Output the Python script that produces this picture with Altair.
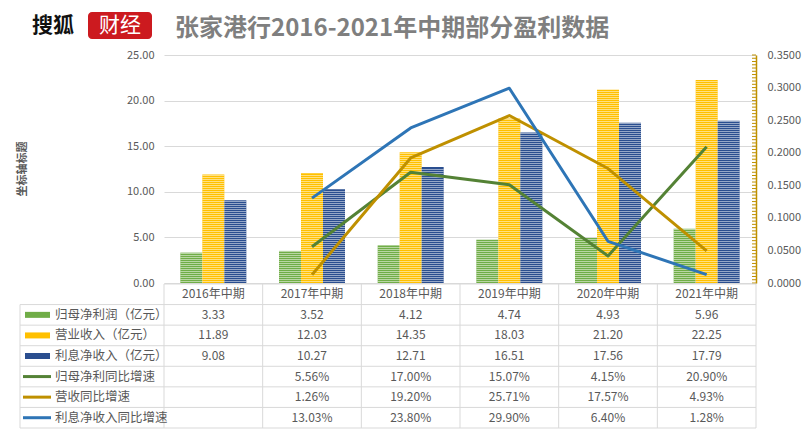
import altair as alt
import pandas as pd
import numpy as np

# ---------------- data ----------------
years = ["2016年中期", "2017年中期", "2018年中期", "2019年中期", "2020年中期", "2021年中期"]
bar_series = ["归母净利润（亿元）", "营业收入（亿元）", "利息净收入（亿元）"]
line_series = ["归母净利同比增速", "营收同比增速", "利息净收入同比增速"]

net_profit = [3.33, 3.52, 4.12, 4.74, 4.93, 5.96]
revenue = [11.89, 12.03, 14.35, 18.03, 21.20, 22.25]
interest_income = [9.08, 10.27, 12.71, 16.51, 17.56, 17.79]

profit_growth = [None, 0.0556, 0.1700, 0.1507, 0.0415, 0.2090]
revenue_growth = [None, 0.0126, 0.1920, 0.2571, 0.1757, 0.0493]
interest_growth = [None, 0.1303, 0.2380, 0.2990, 0.0640, 0.0128]

left_ticks = [0, 5, 10, 15, 20, 25]
right_ticks = [0, 0.05, 0.10, 0.15, 0.20, 0.25, 0.30, 0.35]

bar_colors = ["#70AD47", "#FFC000", "#2A4E8F"]
line_colors = ["#548235", "#BF9000", "#2E75B6"]

title_text = "张家港行2016-2021年中期部分盈利数据"
y_title_text = "坐标轴标题"

# ---------------- layout constants ----------------
W, H = 592, 228
TAB_TOP, TAB_BOT = 229, 373
ROW_H = (TAB_BOT - TAB_TOP) / 7
LABEL_LEFT = -144
FONT = "Noto Sans CJK SC"
GRAY = "#595959"
GRID = "#D9D9D9"

bar_vals = [net_profit, revenue, interest_income]
line_vals = [profit_growth, revenue_growth, interest_growth]

bar_df = pd.DataFrame([
    {"year": y, "series": s, "value": v}
    for s, vals in zip(bar_series, bar_vals) for y, v in zip(years, vals)
])
line_df = pd.DataFrame([
    {"year": y, "series": s, "value": v}
    for s, vals in zip(line_series, line_vals) for y, v in zip(years, vals) if v is not None
])

# hatch stripes (1px light lines every 2px) derived from bar values
unit = 25 / H
stripe_rows = []
for r in bar_df.itertuples():
    k = 0
    while (2 * k + 2) * unit <= r.value:
        stripe_rows.append({"year": r.year, "series": r.series,
                            "lo": (2 * k + 1) * unit, "hi": (2 * k + 2) * unit})
        k += 1
stripe_df = pd.DataFrame(stripe_rows)

row_order = ["header"] + bar_series + line_series
cells = [{"row": "header", "year": y, "text": y} for y in years]
for s, vals in zip(bar_series, bar_vals):
    cells += [{"row": s, "year": y, "text": f"{v:.2f}"} for y, v in zip(years, vals)]
for s, vals in zip(line_series, line_vals):
    cells += [{"row": s, "year": y, "text": f"{v*100:.2f}%"} for y, v in zip(years, vals) if v is not None]
cell_df = pd.DataFrame(cells)
label_df = pd.DataFrame({"row": bar_series + line_series, "series": bar_series + line_series})
year_df = pd.DataFrame({"year": years})
row_df = pd.DataFrame({"row": row_order})
minor_df = pd.DataFrame({"t": np.round(np.arange(0, 0.3501, 0.005), 4)})
one = pd.DataFrame({"a": [1]})

color_scale = alt.Scale(domain=bar_series + line_series, range=bar_colors + line_colors)

# ---------------- encodings ----------------
band_bar = alt.Scale(type="band", domain=years, paddingInner=0.331, paddingOuter=0.1655)
band_tab = alt.Scale(type="band", domain=years, paddingInner=0, paddingOuter=0)
row_scale = alt.Scale(type="band", domain=row_order, range=[TAB_TOP, TAB_BOT], paddingInner=0, paddingOuter=0)
x_off = alt.XOffset("series:N", sort=bar_series,
                    scale=alt.Scale(domain=bar_series, paddingInner=0, paddingOuter=0))

bars = alt.Chart(bar_df).mark_bar().encode(
    x=alt.X("year:N", sort=years, scale=band_bar, axis=None),
    xOffset=x_off,
    y=alt.Y("value:Q", scale=alt.Scale(domain=[0, 25]),
            axis=alt.Axis(values=left_ticks, format=".2f", grid=True, gridColor=GRID,
                          domain=False, ticks=False, labelPadding=10, labelColor=GRAY,
                          labelFontSize=11, labelFont=FONT, title=None)),
    color=alt.Color("series:N", scale=color_scale, legend=None),
)

stripes = alt.Chart(stripe_df).mark_bar(color="white", opacity=0.5).encode(
    x=alt.X("year:N", sort=years, scale=band_bar, axis=None),
    xOffset=x_off,
    y=alt.Y("lo:Q", scale=alt.Scale(domain=[0, 25]), axis=None),
    y2="hi:Q",
)

lines = alt.Chart(line_df).mark_line(strokeWidth=3, strokeJoin="round").encode(
    x=alt.X("year:N", sort=years, scale=band_bar, bandPosition=0.5, axis=None),
    y=alt.Y("value:Q", scale=alt.Scale(domain=[0, 0.35]),
            axis=alt.Axis(orient="right", values=right_ticks, format=".4f", grid=False,
                          domainColor="#BF9000", domainWidth=1.5, ticks=False,
                          labelPadding=11, labelColor=GRAY, labelFontSize=11,
                          labelFont=FONT, title=None)),
    color=alt.Color("series:N", scale=color_scale, legend=None),
    detail="series:N",
)

minor = alt.Chart(minor_df).mark_rule(color="#BF9000", strokeWidth=1).encode(
    x=alt.value(W - 4), x2=alt.value(W),
    y=alt.Y("t:Q", scale=alt.Scale(domain=[0, 0.35]), axis=None),
)

# ---------------- table ----------------
y_mid = alt.Y("row:N", sort=row_order, scale=row_scale, bandPosition=0.5, axis=None)
y_top = alt.Y("row:N", sort=row_order, scale=row_scale, bandPosition=0, axis=None)

cell_text = alt.Chart(cell_df).mark_text(fontSize=12, color=GRAY, baseline="middle", align="center").encode(
    x=alt.X("year:N", sort=years, scale=band_tab, bandPosition=0.5, axis=None),
    y=y_mid,
    text="text:N",
)

hline_header = alt.Chart(row_df[row_df.row == "header"]).mark_rule(color=GRID).encode(
    x=alt.value(0), x2=alt.value(W), y=y_top)
hline_rows = alt.Chart(row_df[row_df.row != "header"]).mark_rule(color=GRID).encode(
    x=alt.value(LABEL_LEFT), x2=alt.value(W), y=y_top)
hline_bottom = alt.Chart(one).mark_rule(color=GRID).encode(
    x=alt.value(LABEL_LEFT), x2=alt.value(W), y=alt.value(TAB_BOT))

vlines = alt.Chart(year_df).mark_rule(color=GRID).encode(
    x=alt.X("year:N", sort=years, scale=band_tab, bandPosition=0, axis=None),
    y=alt.value(TAB_TOP), y2=alt.value(TAB_BOT))
vline_right = alt.Chart(one).mark_rule(color=GRID).encode(
    x=alt.value(W), y=alt.value(TAB_TOP), y2=alt.value(TAB_BOT))
vline_left = alt.Chart(one).mark_rule(color=GRID).encode(
    x=alt.value(LABEL_LEFT), y=alt.value(TAB_TOP + ROW_H), y2=alt.value(TAB_BOT))

label_text = alt.Chart(label_df).mark_text(fontSize=12.5, color=GRAY, baseline="middle", align="left").encode(
    x=alt.value(-109), y=y_mid, text="series:N")

bar_sym_df = label_df[label_df.series.isin(bar_series)]
line_sym_df = label_df[label_df.series.isin(line_series)]
bar_sym = alt.Chart(bar_sym_df).mark_rule(strokeWidth=6).encode(
    x=alt.value(-139), x2=alt.value(-114), y=y_mid,
    color=alt.Color("series:N", scale=color_scale, legend=None))
bar_sym_s1 = alt.Chart(bar_sym_df).mark_rule(strokeWidth=1, color="white", opacity=0.6).encode(
    x=alt.value(-139), x2=alt.value(-114), y=y_mid, yOffset=alt.value(-1.5))
bar_sym_s2 = alt.Chart(bar_sym_df).mark_rule(strokeWidth=1, color="white", opacity=0.6).encode(
    x=alt.value(-139), x2=alt.value(-114), y=y_mid, yOffset=alt.value(1.5))
line_sym = alt.Chart(line_sym_df).mark_rule(strokeWidth=3).encode(
    x=alt.value(-141), x2=alt.value(-113), y=y_mid,
    color=alt.Color("series:N", scale=color_scale, legend=None))

# ---------------- header / titles ----------------
logo_left = alt.Chart(one).mark_text(text="搜狐", fontSize=21, fontWeight="bold", color="#111111",
                                     align="left", baseline="middle").encode(
    x=alt.value(-132), y=alt.value(-29))
logo_box = alt.Chart(one).mark_rect(color="#CC1A1F", cornerRadius=4).encode(
    x=alt.value(-76), x2=alt.value(-12), y=alt.value(-43), y2=alt.value(-16))
logo_right = alt.Chart(one).mark_text(text="财经", fontSize=21, color="white",
                                      align="center", baseline="middle").encode(
    x=alt.value(-44), y=alt.value(-29))
title = alt.Chart(one).mark_text(text=title_text, fontSize=24, fontWeight="bold", color="#7F7F7F",
                                 align="left", baseline="middle").encode(
    x=alt.value(11), y=alt.value(-26))
y_title = alt.Chart(one).mark_text(text=y_title_text, fontSize=11, fontWeight="bold", color=GRAY,
                                   angle=270, align="center", baseline="middle").encode(
    x=alt.value(-141), y=alt.value(H / 2))

chart = alt.layer(
    bars, stripes, lines, minor,
    hline_header, hline_rows, hline_bottom, vlines, vline_right, vline_left,
    cell_text, label_text, bar_sym, bar_sym_s1, bar_sym_s2, line_sym,
    logo_box, logo_left, logo_right, title, y_title,
).resolve_scale(
    x="independent", y="independent"
).properties(
    width=W, height=H,
    autosize=alt.AutoSizeParams(type="none"),
    padding={"left": 156, "top": 47, "right": 46, "bottom": 146},
    background="white",
).configure(font=FONT).configure_view(stroke=None)

chart.save("out.html", embed_options={"renderer": "svg", "actions": False})
